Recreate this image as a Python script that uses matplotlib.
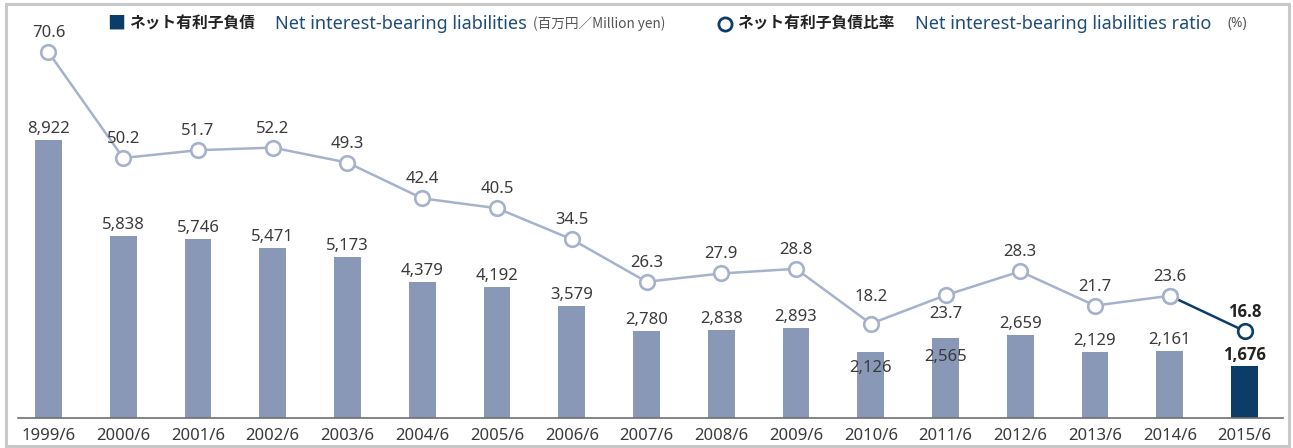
import matplotlib
matplotlib.use("Agg")
import matplotlib.pyplot as plt
from matplotlib.lines import Line2D
from matplotlib.patches import Rectangle

years = ["1999/6", "2000/6", "2001/6", "2002/6", "2003/6", "2004/6", "2005/6", "2006/6",
         "2007/6", "2008/6", "2009/6", "2010/6", "2011/6", "2012/6", "2013/6", "2014/6", "2015/6"]
liabilities = [8922, 5838, 5746, 5471, 5173, 4379, 4192, 3579,
               2780, 2838, 2893, 2126, 2565, 2659, 2129, 2161, 1676]
ratio = [70.6, 50.2, 51.7, 52.2, 49.3, 42.4, 40.5, 34.5,
         26.3, 27.9, 28.8, 18.2, 23.7, 28.3, 21.7, 23.6, 16.8]

BAR = "#8898b6"
LINE = "#a6b2cc"
NAVY = "#0c3d68"
TXT = "#3a3a3a"
JP = ["Noto Sans CJK JP", "DejaVu Sans"]

W, H = 1293, 448
fig = plt.figure(figsize=(W / 100, H / 100), dpi=100)
plt.rcParams['font.family'] = ["Noto Sans", "Noto Sans CJK JP", "DejaVu Sans"]
BOLD = ["Open Sans", "Noto Sans CJK JP", "DejaVu Sans"]

# axes placed so that baseline sits at y=418px
ax = fig.add_axes([18 / W, 30 / H, 1265 / W, 378 / H])
ax2 = ax.twinx()
x = list(range(len(years)))

colors = [BAR] * (len(years) - 1) + [NAVY]
ax.bar(x, liabilities, width=0.36, color=colors, zorder=1)
ax.set_ylim(0, 378 / 0.03116)
ax.set_xlim(-0.408, 16.515)

ax2.plot(x[:-1], ratio[:-1], color=LINE, lw=1.8, marker="o", ms=10.5,
         mfc="white", mec=LINE, mew=1.9, zorder=3)
ax2.plot(x[-2:], ratio[-2:], color=NAVY, lw=1.8, zorder=2)
ax2.plot(x[-2], ratio[-2], marker="o", ms=10.5, mfc="white", mec=LINE, mew=1.9, zorder=4)
ax2.plot(x[-1], ratio[-1], marker="o", ms=10.5, mfc="white", mec=NAVY, mew=1.9, zorder=4)
ax2.set_ylim(0, 378 / 5.18)

# bar labels (px offsets converted to points)
bar_off = {11: -16, 12: -18.5}
for i, v in enumerate(liabilities):
    last = i == len(years) - 1
    off = bar_off.get(i, 11) * 0.72
    ax.annotate(f"{v:,}", (i, v), xytext=(0, off), textcoords="offset points",
                ha="center", va="center", fontsize=12,
                color="#222222" if last else TXT,
                family=BOLD if last else None,
                fontweight="bold" if last else "normal", zorder=5)

ratio_off = {11: 27, 12: -19}
for i, v in enumerate(ratio):
    last = i == len(years) - 1
    off = ratio_off.get(i, 19) * 0.72
    ax2.annotate(f"{v}", (i, v), xytext=(0, off), textcoords="offset points",
                 ha="center", va="center", fontsize=12,
                 color="#222222" if last else TXT,
                 family=BOLD if last else None,
                 fontweight="bold" if last else "normal", zorder=5)

for a in (ax, ax2):
    for s in ("top", "right", "left"):
        a.spines[s].set_visible(False)
    a.set_yticks([])
ax.spines["bottom"].set_color("#707070")
ax.spines["bottom"].set_linewidth(1.2)
ax2.spines["bottom"].set_visible(False)
ax.set_xticks(x)
ax.set_xticklabels(years, fontsize=12, color=TXT)
ax.tick_params(axis="x", length=0, pad=7)

# legend row
yl = 1 - 24 / H
fig.text(107 / W, yl, "■", fontsize=13, color=NAVY, va="center", ha="left", family=JP)
fig.text(129 / W, yl, "ネット有利子負債", fontsize=11.3, color="#222222", va="center",
         ha="left", family=JP, fontweight="bold")
fig.text(275 / W, yl, "Net interest-bearing liabilities", fontsize=13, color="#1d4b7a",
         va="center", ha="left")
fig.text(533 / W, yl, "(百万円／Million yen)", fontsize=9.8, color="#555555",
         va="center", ha="left", family=JP)
fig.add_artist(Line2D([724.5 / W], [yl], marker="o", ms=9.5, mfc="white", mec=NAVY,
                      mew=2, transform=fig.transFigure))
fig.text(737 / W, yl, "ネット有利子負債比率", fontsize=11.3, color="#222222", va="center",
         ha="left", family=JP, fontweight="bold")
fig.text(915 / W, yl, "Net interest-bearing liabilities ratio", fontsize=13,
         color="#1d4b7a", va="center", ha="left")
fig.text(1228 / W, yl, "(%)", fontsize=9.8, color="#555555", va="center", ha="left")

# outer frame
fig.add_artist(Rectangle((5.5 / W, 2 / H), 1283 / W, 442 / H, transform=fig.transFigure,
                         fill=False, edgecolor="#c8c8c8", lw=2.2))

fig.savefig("out.png", dpi=100)
